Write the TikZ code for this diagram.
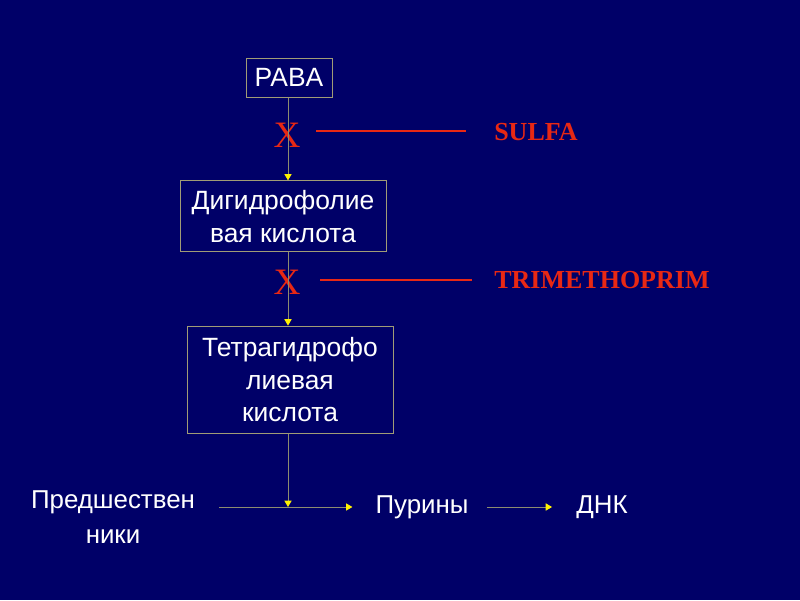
\documentclass[tikz,border=0pt]{standalone}
\usepackage{fontspec}
\setmainfont{Liberation Sans}
\newfontfamily\drugfont{Liberation Serif}
\usepackage{tikz}
\usetikzlibrary{arrows.meta, positioning}

\definecolor{slidebg}{RGB}{0,0,104}
\definecolor{boxline}{RGB}{160,156,118}
\definecolor{flowline}{RGB}{140,140,112}
\definecolor{blockred}{RGB}{232,40,20}

\tikzset{
  box/.style={draw=boxline, line width=0.7pt, text=white, align=center,
    font=\fontsize{18.8}{23}\selectfont},
  label/.style={text=white, align=center, inner sep=0pt,
    font=\fontsize{18.4}{24.5}\selectfont},
  flow/.style={draw=flowline, line width=0.7pt,
    -{Triangle[length=0.16cm, width=0.18cm, color=yellow]}},
  xmark/.style={text=blockred, inner sep=0pt, font=\drugfont\fontsize{26.5}{27}\selectfont},
  drug/.style={text=blockred, inner sep=0pt, anchor=west,
    font=\drugfont\bfseries\fontsize{18.5}{20}\selectfont},
  block/.style={draw=blockred, line width=2.1pt}
}

\begin{document}
\begin{tikzpicture}

% Background
\fill[slidebg] (0,0) rectangle (20,15);
\useasboundingbox (0,0) rectangle (20,15);

% Boxes
\node[box, minimum width=2.15cm, minimum height=0.975cm] (paba) at (7.225,13.06) {PABA};
\node[box, minimum width=5.15cm, minimum height=1.775cm] (dhf) at (7.075,9.59) {Дигидрофолие\\вая кислота};
\node[box, minimum width=5.15cm, minimum height=2.675cm] (thf) at (7.25,5.51) {Тетрагидрофо\\лиевая\\кислота};

% Bottom row
\node[label] (pred) at (2.825,2.075) {Предшествен\\ники};
\node[label] (pur) at (10.55,2.325) {Пурины};
\node[label] (dna) at (15.05,2.325) {ДНК};
\coordinate (join) at (7.2,2.325);

% Blocks
\node[xmark] (x1) at (7.175,11.625) {X};
\node[xmark] (x2) at (7.175,7.95) {X};
\node[drug] (sulfa) at (12.35,11.7) {SULFA};
\node[drug] (tmp) at (12.35,8.0) {TRIMETHOPRIM};
\draw[block] ([xshift=-4.45cm]sulfa.west |- 0,11.725) -- ([xshift=-0.7cm]sulfa.west |- 0,11.725);
\draw[block] ([xshift=-4.35cm]tmp.west |- 0,8.0) -- ([xshift=-0.55cm]tmp.west |- 0,8.0);

% Pathway
\draw[flow] (paba.south -| join) -- (dhf.north -| join);
\draw[flow] (dhf.south -| join) -- (thf.north -| join);
\draw[flow] (thf.south -| join) -- (join);
\draw[flow, shorten <=0.6cm, shorten >=0.57cm] (pred.east |- pur.west) -- (pur.west);
\draw[flow, shorten <=0.45cm, shorten >=0.6cm] (pur.east) -- (dna.west);

\end{tikzpicture}
\end{document}
